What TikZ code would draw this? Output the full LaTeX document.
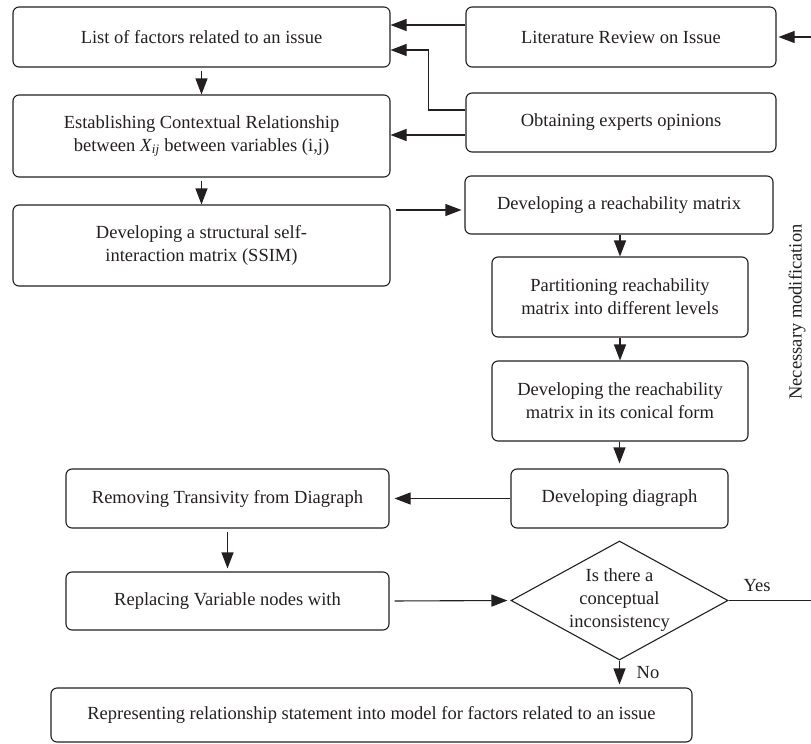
\documentclass[tikz,border=0pt]{standalone}
\usepackage{fontspec}
\setmainfont{Liberation Serif}
\usetikzlibrary{arrows.meta,shapes.geometric}

\definecolor{ink}{HTML}{231F20}

\tikzset{
  procbox/.style={draw=ink, line width=1.1pt, rounded corners=6pt, align=center,
    inner sep=2pt, text=ink},
  decision/.style={draw=ink, line width=1.1pt, diamond, aspect=1.8, align=center,
    inner sep=0pt, text=ink},
  arr/.style={draw=ink, line width=1.1pt, -{Triangle[length=16pt,width=12pt]}},
  plain/.style={draw=ink, line width=1.1pt},
  lbl/.style={text=ink, inner sep=0pt}
}

\begin{document}
\begin{tikzpicture}[x=1pt, y=-1pt, font=\fontsize{18.5}{23}\selectfont]
\useasboundingbox (0,0) rectangle (811,744);

% left column
\node[procbox, minimum width=377pt, minimum height=60pt] (list) at (201.5,37)
  {List of factors related to an issue};
\node[procbox, minimum width=377pt, minimum height=82pt] (estab) at (201.5,136)
  {Establishing Contextual Relationship\\between \textit{X}\textsubscript{\textit{ij}} between variables (i,j)};
\node[procbox, minimum width=377pt, minimum height=81pt] (ssim) at (201.5,245.5)
  {Developing a structural self-\\interaction matrix (SSIM)};

% sources on the right
\node[procbox, minimum width=310pt, minimum height=60pt] (lit) at (621,37)
  {Literature Review on Issue};
\node[procbox, minimum width=310pt, minimum height=59pt] (expert) at (621,122.5)
  {Obtaining experts opinions};

% reachability chain
\node[procbox, minimum width=308pt, minimum height=58pt] (reach) at (619,205)
  {Developing a reachability matrix};
\node[procbox, minimum width=256pt, minimum height=80pt] (part) at (620,297)
  {Partitioning reachability\\matrix into different levels};
\node[procbox, minimum width=256pt, minimum height=80pt] (conic) at (620,401)
  {Developing the reachability\\matrix in its conical form};
\node[procbox, minimum width=217pt, minimum height=59pt] (digraph) at (619.5,498.5)
  {Developing diagraph};

% lower left
\node[procbox, minimum width=323pt, minimum height=59pt] (remove) at (227.5,498.5)
  {Removing Transivity from Diagraph};
\node[procbox, minimum width=323pt, minimum height=58pt] (replace) at (227.5,601)
  {Replacing Variable nodes with};

% decision and result
\node[decision, minimum width=217pt, minimum height=119pt] (check) at (619.5,600.5)
  {Is there a\\conceptual\\inconsistency};
\node[procbox, minimum width=641pt, minimum height=54pt] (final) at (371.5,715)
  {Representing relationship statement into model for factors related to an issue};

% free ends of the feedback loop
\coordinate (loopin) at (811,37);
\coordinate (loopout) at (811,600.5);

% connectors
\draw[arr] ([yshift=12pt]lit.west) -- ([yshift=12pt]lit.west -| list.east);
\draw[arr] ([yshift=12.5pt]expert.west) -| ([xshift=38pt,yshift=-13pt]list.east)
  -- ([yshift=-13pt]list.east);
\draw[arr] ([yshift=-12.5pt]expert.west) -- ([yshift=-12.5pt]expert.west -| estab.east);
\draw[arr, shorten <=3pt] (list.south) -- (estab.north);
\draw[arr, shorten <=3pt] (estab.south) -- (ssim.north);
\draw[arr, shorten >=3pt] ([xshift=5pt,yshift=35.5pt]ssim.east) -- ([yshift=35.5pt]ssim.east -| reach.west);
\draw[arr] (reach.south -| part.north) -- (part.north);
\draw[arr] (part.south) -- (conic.north);
\draw[arr, shorten >=5pt] (conic.south -| digraph.north) -- (digraph.north);
\draw[arr, shorten >=5pt] (digraph.west) -- (digraph.west -| remove.east);
\draw[arr, shorten <=3pt, shorten >=3pt] (remove.south) -- (replace.north);
\draw[arr, shorten <=5pt, shorten >=3pt] (replace.east) -- (check.west);
\draw[arr, shorten >=3pt] (check.south) -- (check.south |- final.north);
\draw[plain] (check.east) -- (loopout);
\draw[arr, shorten >=2pt] (loopin) -- (lit.east);

% labels
\node[lbl] (yes) at (757,586) {Yes};
\node[lbl] (no) at (648,673) {No};
\node[lbl, rotate=90] (modif) at (797,312) {Necessary modification};
\end{tikzpicture}
\end{document}
